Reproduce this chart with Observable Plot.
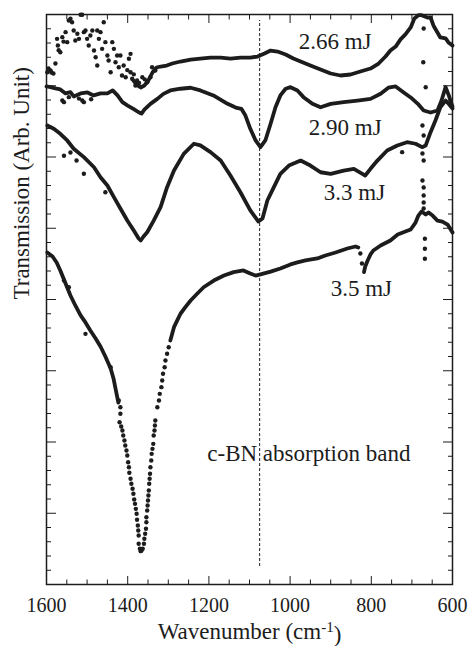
<!DOCTYPE html>
<html><head><meta charset="utf-8">
<script src="https://cdn.jsdelivr.net/npm/d3@7"></script>
<script src="https://cdn.jsdelivr.net/npm/@observablehq/plot@0.6"></script>
<style>
body{margin:0;background:#fff}
svg, svg text, svg tspan { font-family: "Liberation Serif", "Times New Roman", serif !important; }
</style>
</head><body><div id="chart"></div>
<script>
// ---- ticks ----
const xMajorTicks = [1600, 1400, 1200, 1000, 800, 600];
const xMinorTicks = [1550,1500,1450,1350,1300,1250,1150,1100,1050,950,900,850,750,700,650];
const yMajorTicks = [0, 5, 10, 15, 20, 25, 30, 35, 40];
const yMinorTicks = [1,2,3,4,6,7,8,9,11,12,13,14,16,17,18,19,21,22,23,24,26,27,28,29,31,32,33,34,36,37,38,39];

// ---- series labels ----
const seriesLabels = ["2.66 mJ", "2.90 mJ", "3.3 mJ", "3.5 mJ"];
const labelWn = [979, 954, 917, 900];
const labelT = [37.59, 31.51, 26.95, 20.28];
const bandLabel = ["c-BN absorption band"];
const bandLabelWn = [1204];
const bandLabelT = [8.70];
const bandWn = [1075];
const bandSpan = [1.26, 39.58];

// ---- 2.66 mJ ----
const trace266 = [[1386,35.37],[1376,35.02],[1368,34.88],[1359,35.02],[1349,35.37],[1339,35.93],[1329,36.28],[1319,36.35],[1304,36.42],[1290,36.56],[1270,36.70],[1245,36.84],[1221,36.91],[1196,36.98],[1171,36.98],[1147,36.91],[1122,36.98],[1098,36.98],[1080,37.05],[1063,37.26],[1048,37.47],[1031,37.40],[1011,37.19],[992,36.91],[974,36.70],[950,36.42],[925,36.14],[900,35.86],[876,35.72],[851,35.79],[827,36.00],[802,36.21],[782,36.56],[765,37.05],[753,37.47],[740,37.75],[728,38.25],[716,38.60],[703,39.09],[694,39.72],[684,39.95],[676,39.95],[662,39.79],[654,39.79],[647,39.23],[637,38.74],[630,38.39],[617,38.32],[610,38.04],[600,37.82]];
const dots266 = [[1598,35.95],[1595,36.21],[1590,36.07],[1588,35.93],[1583,35.86],[1578,36.56],[1574,38.29],[1572,37.82],[1570,37.50],[1566,37.35],[1561,38.41],[1558,38.10],[1553,38.76],[1549,38.06],[1545,39.58],[1541,39.70],[1537,39.46],[1533,38.88],[1529,38.18],[1524,38.65],[1520,38.29],[1516,39.98],[1512,39.98],[1508,38.76],[1504,38.88],[1500,38.29],[1496,37.82],[1492,38.53],[1487,38.88],[1483,37.47],[1479,37.00],[1475,36.42],[1475,38.88],[1471,38.29],[1467,38.76],[1463,37.59],[1459,39.46],[1455,38.06],[1450,37.12],[1447,36.77],[1442,35.95],[1438,38.06],[1434,37.59],[1430,36.65],[1426,37.12],[1422,36.30],[1418,37.12],[1414,35.72],[1410,36.42],[1405,35.60],[1401,36.10],[1397,36.89],[1393,37.24],[1393,35.95],[1389,35.49],[1385,35.80],[1381,35.02],[1377,35.37],[1372,35.20],[1364,35.60],[1358,35.45],[1352,35.25],[1344,35.60],[1340,36.30],[1332,36.07],[671,39.02],[672,36.65],[666,34.90]];

// ---- 2.90 mJ ----
const trace290 = [[1600,34.95],[1590,34.90],[1578,34.81],[1566,34.74],[1553,34.46],[1541,34.55],[1533,34.25],[1516,34.46],[1499,34.53],[1484,34.32],[1467,34.46],[1450,34.46],[1437,34.67],[1425,34.32],[1413,33.85],[1400,33.61],[1386,33.38],[1373,33.14],[1366,33.05],[1359,33.33],[1344,33.73],[1327,34.08],[1312,34.43],[1295,34.67],[1270,34.79],[1245,34.86],[1221,34.67],[1189,34.32],[1154,33.73],[1134,33.47],[1120,33.38],[1110,32.91],[1098,31.98],[1085,31.16],[1073,30.69],[1061,31.16],[1048,32.33],[1036,33.49],[1024,34.32],[1011,34.79],[999,34.90],[982,34.67],[967,34.20],[945,33.73],[925,33.49],[900,33.73],[868,33.85],[834,33.96],[802,34.08],[777,34.44],[758,34.86],[740,34.95],[721,34.55],[703,34.18],[686,33.75],[671,33.26],[654,33.12],[637,33.26],[627,33.96],[617,34.90],[610,34.39],[600,33.54]];
const dots290 = [[1561,33.96],[1557,33.85],[1545,34.20],[1520,34.10],[1512,33.96],[1508,33.85],[1490,34.05],[674,32.21],[671,31.51]];

// ---- 3.3 mJ ----
const trace33 = [[1598,32.21],[1582,31.98],[1566,31.63],[1549,31.16],[1533,30.58],[1508,29.99],[1483,29.28],[1467,28.58],[1450,28.00],[1434,27.18],[1418,26.39],[1401,25.54],[1385,24.84],[1373,24.28],[1368,24.14],[1361,24.42],[1352,24.72],[1336,25.54],[1319,26.48],[1303,27.88],[1286,29.05],[1262,30.22],[1237,30.93],[1221,30.81],[1196,30.34],[1171,29.75],[1147,28.70],[1122,27.51],[1098,26.25],[1078,25.47],[1068,25.68],[1056,26.95],[1040,27.88],[1024,28.82],[1003,29.40],[974,29.75],[950,29.40],[925,28.93],[900,28.82],[868,29.05],[843,29.17],[822,28.82],[815,28.70],[802,29.17],[785,29.75],[761,30.46],[736,30.81],[712,31.04],[691,30.93],[675,30.69],[666,30.81],[654,31.74],[642,32.56],[630,33.49],[617,33.96],[610,33.75],[600,33.40]];
const dots33 = [[1557,30.09],[1541,30.32],[1526,29.75],[1508,28.82],[1455,27.53],[724,30.34],[674,30.25],[671,29.75],[674,28.35],[671,27.86],[671,27.30],[671,26.81],[671,26.39]];

// ---- 3.5 mJ ----
const trace35a = [[1598,23.30],[1585,23.02],[1575,22.60],[1566,22.04],[1553,21.12],[1541,20.28],[1529,19.58],[1516,18.88],[1504,18.39],[1492,17.82],[1479,17.26],[1467,16.70],[1455,16.00],[1442,15.16],[1435,14.46],[1428,13.47],[1423,12.77]];
const dots35 = [[1422,12.91],[1418,12.44],[1418,11.98],[1420,11.39],[1416,11.09],[1413,10.81],[1411,10.46],[1408,10.11],[1406,9.75],[1403,9.40],[1401,9.05],[1399,8.58],[1397,8.23],[1396,7.84],[1393,7.42],[1391,7.07],[1388,6.72],[1386,6.37],[1384,5.96],[1382,5.66],[1380,5.31],[1378,4.96],[1377,4.54],[1375,4.14],[1374,3.79],[1373,3.44],[1373,2.86],[1370,2.51],[1368,2.34],[1366,2.39],[1363,2.51],[1360,2.86],[1359,3.21],[1357,3.56],[1355,3.91],[1354,4.37],[1354,4.72],[1352,5.19],[1351,5.54],[1350,5.89],[1349,6.25],[1348,6.60],[1347,7.07],[1346,7.42],[1345,7.77],[1344,8.23],[1342,8.70],[1341,9.17],[1339,9.52],[1337,9.87],[1336,10.46],[1334,10.81],[1333,11.16],[1332,11.51],[1327,12.44],[1323,12.91],[1321,13.38],[1317,13.85],[1315,14.32],[1313,14.79],[1309,15.25],[1307,15.72],[1303,16.19],[1299,16.65],[827,23.23],[823,22.53],[668,24.26],[668,23.56],[668,22.86],[1557,21.33],[1545,20.86],[1504,17.59],[1442,15.25]];
const trace35b = [[1295,17.12],[1286,18.06],[1278,18.53],[1270,19.00],[1258,19.46],[1245,19.93],[1229,20.40],[1213,20.86],[1188,21.33],[1163,21.68],[1139,21.92],[1115,22.04],[1098,21.82],[1085,21.68],[1066,21.82],[1048,21.96],[1024,22.18],[999,22.46],[982,22.60],[962,22.74],[933,22.88],[913,23.09],[888,23.30],[859,23.58],[839,23.72],[832,23.65]];
const trace35c = [[818,21.92],[815,22.32],[809,22.74],[802,23.16],[795,23.44],[777,23.79],[753,24.14],[735,24.56],[716,24.77],[703,24.91],[691,25.40],[684,25.89],[676,26.18],[666,25.96],[659,26.11],[649,25.89],[637,25.54],[625,25.47],[612,25.26],[600,24.70]];

const ink = "#1c1c1c";
const serif = "Liberation Serif";
const L = {x: d => d[0], y: d => d[1], stroke: ink, strokeWidth: 3.8, strokeLinejoin: "round", strokeLinecap: "round"};
const D = {x: d => d[0], y: d => d[1], r: 2.2, fill: ink};
const noText = () => "";

const chart = Plot.plot({
  width: 469, height: 646,
  marginLeft: 46, marginRight: 17, marginTop: 14, marginBottom: 62,
  style: "font-family: 'Liberation Serif', serif; font-size: 20px; background: white; color: #1c1c1c;",
  x: {domain: [1600, 600], label: null},
  y: {domain: [0, 40], label: null},
  marks: [
    Plot.ruleX(bandWn, {y1: bandSpan[0], y2: bandSpan[1], stroke: ink, strokeWidth: 1, strokeDasharray: "3,2"}),
    Plot.line(trace266, L), Plot.dot(dots266, D),
    Plot.line(trace290, L), Plot.dot(dots290, D),
    Plot.line(trace33, L), Plot.dot(dots33, D),
    Plot.line(trace35a, L), Plot.line(trace35b, L), Plot.line(trace35c, L), Plot.dot(dots35, D),
    Plot.text(seriesLabels, {x: (d, i) => labelWn[i], y: (d, i) => labelT[i], text: d => d, textAnchor: "start", lineAnchor: "bottom", fontSize: 23, fontFamily: serif, fill: ink}),
    Plot.text(bandLabel, {x: (d, i) => bandLabelWn[i], y: (d, i) => bandLabelT[i], text: d => d, textAnchor: "start", lineAnchor: "bottom", fontSize: 23, fontFamily: serif, fill: ink}),
    Plot.frame({stroke: ink, strokeWidth: 1.5}),
    Plot.axisX({anchor: "bottom", ticks: xMajorTicks, tickSize: -8, tickFormat: noText, label: null, stroke: ink}),
    Plot.axisX({anchor: "bottom", ticks: xMinorTicks, tickSize: -4.5, tickFormat: noText, label: null, stroke: ink}),
    Plot.axisX({anchor: "top", ticks: xMajorTicks, tickSize: -8, tickFormat: noText, label: null, stroke: ink}),
    Plot.axisX({anchor: "top", ticks: xMinorTicks, tickSize: -4.5, tickFormat: noText, label: null, stroke: ink}),
    Plot.axisX({anchor: "bottom", ticks: xMajorTicks, tickSize: 0, tickPadding: 13, tickFormat: d => String(d), label: null, fontSize: 20, fontFamily: serif, fill: ink}),
    Plot.axisY({anchor: "left", ticks: yMajorTicks, tickSize: -10, tickFormat: noText, label: null, stroke: ink}),
    Plot.axisY({anchor: "left", ticks: yMinorTicks, tickSize: -5, tickFormat: noText, label: null, stroke: ink}),
    Plot.axisY({anchor: "right", ticks: yMajorTicks, tickSize: -10, tickFormat: noText, label: null, stroke: ink}),
    Plot.axisY({anchor: "right", ticks: yMinorTicks, tickSize: -5, tickFormat: noText, label: null, stroke: ink}),
    Plot.text(["Transmission (Arb. Unit)"], {frameAnchor: "left", rotate: -90, dx: -25, text: d => d, fontSize: 23, fontFamily: serif, fill: ink}),
    Plot.text(["Wavenumber (cm-1)"], {frameAnchor: "bottom", dy: 54, lineAnchor: "bottom", text: d => d, fontSize: 23, fontFamily: serif, fill: ink})
  ]
});
document.getElementById("chart").append(chart);

// superscript for the x-axis unit
d3.select(chart).selectAll("text").filter(function() { return this.textContent === "Wavenumber (cm-1)"; })
  .each(function() {
    const t = d3.select(this);
    t.text(null);
    t.append("tspan").text("Wavenumber (cm");
    t.append("tspan").attr("dy", "-0.45em").attr("font-size", "15px").text("-1");
    t.append("tspan").attr("dy", "0.45em").text(")");
  });
</script>
</body></html>
